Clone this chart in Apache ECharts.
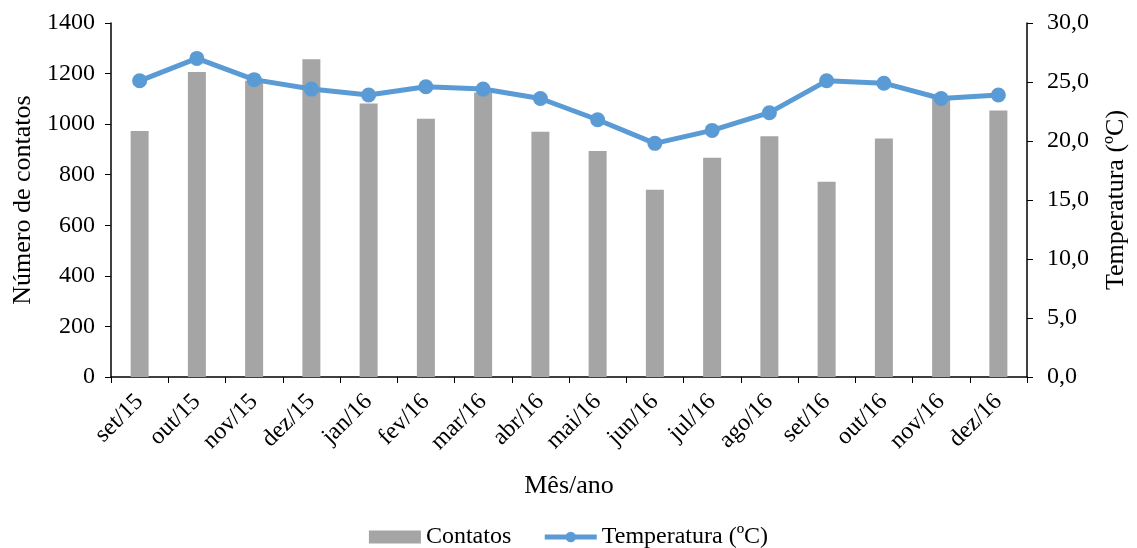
<!DOCTYPE html>
<html><head><meta charset="utf-8">
<script src="https://cdn.jsdelivr.net/npm/echarts@6/dist/echarts.min.js"></script>
<style>html,body{margin:0;padding:0;background:#fff}#c{width:1137px;height:548px}</style>
</head><body><div id="c"></div>
<script>
var categories = ['set/15','out/15','nov/15','dez/15','jan/16','fev/16','mar/16','abr/16','mai/16','jun/16','jul/16','ago/16','set/16','out/16','nov/16','dez/16'];
var contatos = [973, 1206, 1172, 1257, 1082, 1021, 1125, 970, 894, 741, 867, 952, 772, 943, 1108, 1054];
var temperatura = [25.1, 27.0, 25.2, 24.4, 23.9, 24.6, 24.4, 23.6, 21.8, 19.8, 20.9, 22.4, 25.1, 24.9, 23.6, 23.9];
var leftTicks = [0, 1400, 200];
var rightTicks = [0, 30, 5];

var F = '"Liberation Serif","Times New Roman",serif';
var FT = 24, FN = 26, FL = 24;
var chart = echarts.init(document.getElementById('c'));
chart.setOption({
  animation: false,
  textStyle: {fontFamily: F, color: '#000'},
  grid: {left: 111, right: 109, top: 23, bottom: 171},
  legend: {
    top: 520, left: 'center', itemGap: 31, itemWidth: 52, itemHeight: 13,
    textStyle: {fontFamily: F, fontSize: FL, color: '#000'},
    data: [
      {name: 'Contatos', icon: 'rect', itemStyle: {color: '#A5A5A5'}},
      {name: 'Temperatura (ºC)'}
    ],
    lineStyle: {width: 5}
  },
  xAxis: {
    type: 'category', data: categories,
    name: 'Mês/ano', nameLocation: 'middle', nameGap: 96,
    nameTextStyle: {fontFamily: F, fontSize: FN, color: '#000'},
    axisLine: {lineStyle: {color: '#000', width: 1.5}},
    axisTick: {show: true, length: 6, lineStyle: {color: '#000'}},
    axisLabel: {rotate: 45, fontFamily: F, fontSize: FT, color: '#000', margin: 21}
  },
  yAxis: [{
    type: 'value', min: leftTicks[0], max: leftTicks[1], interval: leftTicks[2],
    name: 'Número de contatos', nameLocation: 'middle', nameGap: 73,
    nameTextStyle: {fontFamily: F, fontSize: FN, color: '#000'},
    axisLine: {show: true, lineStyle: {color: '#000', width: 1.5}},
    axisTick: {show: true, length: 6, lineStyle: {color: '#000'}},
    splitLine: {show: false},
    axisLabel: {fontFamily: F, fontSize: FT, color: '#000', margin: 16,
      formatter: function (v) { return String(v); }}
  }, {
    type: 'value', min: rightTicks[0], max: rightTicks[1], interval: rightTicks[2],
    name: 'Temperatura (ºC)', nameLocation: 'middle', nameGap: 76, nameRotate: 90,
    nameTextStyle: {fontFamily: F, fontSize: FN, color: '#000'},
    axisLine: {show: true, lineStyle: {color: '#000', width: 1.5}},
    axisTick: {show: true, length: 6, lineStyle: {color: '#000'}},
    splitLine: {show: false},
    axisLabel: {fontFamily: F, fontSize: FT, color: '#000', margin: 20,
      formatter: function (v) { return v.toFixed(1).replace('.', ','); }}
  }],
  series: [{
    name: 'Contatos', type: 'bar', data: contatos, barWidth: 18,
    itemStyle: {color: '#A5A5A5'}
  }, {
    name: 'Temperatura (ºC)', type: 'line', yAxisIndex: 1, data: temperatura,
    symbol: 'circle', symbolSize: 15,
    lineStyle: {color: '#5B9BD5', width: 5},
    itemStyle: {color: '#5B9BD5'}
  }]
});
</script></body></html>
